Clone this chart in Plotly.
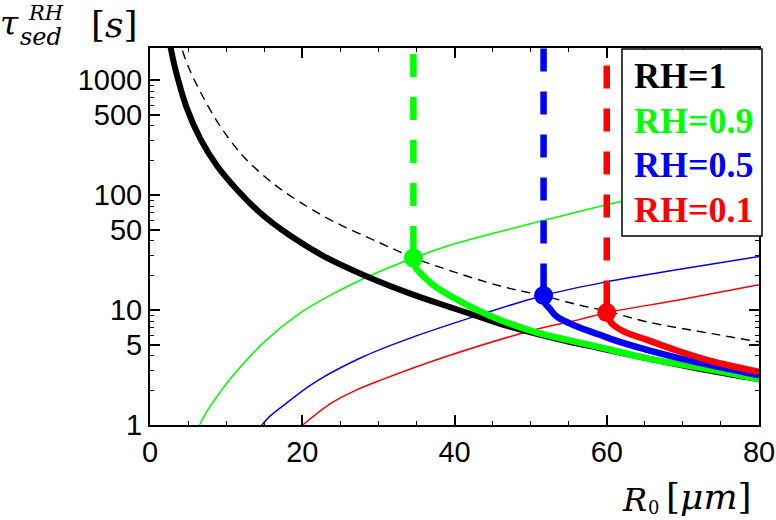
import plotly.graph_objects as go

# ---------------- data ----------------
# RH = 1 (thick black)
R_rh1 = [2.6, 2.9, 3.3, 4.8, 6.6, 8.8, 11.4, 14.5, 18.4, 22.8, 28.5, 34.2, 39.4,
         41.6, 46.0, 50.4, 54.8, 59.1, 65.3, 72.0, 80.0]
tau_rh1 = [2100, 1670, 1270, 580, 310, 180, 112, 70, 44.5, 29.5, 19.6, 13.9, 10.6,
           9.5, 7.6, 6.3, 5.35, 4.65, 3.8, 3.1, 2.5]

# thin dashed black reference curve
R_ref = [3.7, 4.16, 5.0, 6.57, 9.2, 12.3, 16.2, 19.7, 24.1, 29.8, 34.6, 39.0, 46.0,
         51.7, 56.5, 60.0, 65.3, 74.0, 80.0]
tau_ref = [2400, 1900, 1330, 800, 400, 216, 126, 87, 59, 39.5, 28.6, 22.5, 16.2,
           13.3, 11.0, 9.8, 7.9, 6.2, 5.3]

# thin rising curves
R_g_thin = [6.4, 7.5, 8.8, 10.9, 15.3, 19.7, 23.8, 28.5, 34.6, 39.4, 46.9, 55.6, 62.0, 70.0, 80.0]
tau_g_thin = [0.97, 1.32, 1.77, 2.69, 5.5, 9.4, 13.6, 19.4, 28.4, 36.6, 50, 70, 88.5, 112, 145]

R_b_thin = [14.6, 15.8, 17.3, 21.6, 28.2, 34.8, 42.9, 51.7, 60.0, 70.0, 80.0]
tau_b_thin = [0.98, 1.2, 1.44, 2.34, 3.98, 5.9, 8.9, 13.4, 17.6, 22.9, 29.3]

R_r_thin = [19.9, 23.8, 27.0, 30.4, 39.2, 50.4, 56.5, 60.0, 69.6, 80.0]
tau_r_thin = [0.98, 1.55, 2.0, 2.47, 4.0, 6.7, 8.3, 9.5, 12.3, 16.6]

# thick coloured curves (after the transition point)
R_rh09 = [34.6, 34.8, 35.5, 36.4, 37.2, 38.1, 41.6, 46.0, 50.4, 54.8, 59.1, 65.3, 74.0, 80.0]
tau_rh09 = [28.4, 24, 21, 18.4, 16.5, 15.0, 11.1, 8.2, 6.5, 5.5, 4.75, 3.8, 3.0, 2.5]

R_rh05 = [51.7, 51.9, 52.5, 53.4, 56.5, 59.1, 60.9, 65.3, 69.6, 74.0, 80.0]
tau_rh05 = [13.4, 11.5, 10.3, 8.8, 7.0, 6.1, 5.5, 4.5, 3.8, 3.27, 2.7]

R_rh01 = [60.0, 60.3, 60.9, 62.5, 65.3, 69.6, 74.0, 80.0]
tau_rh01 = [9.5, 8.3, 7.4, 6.4, 5.5, 4.36, 3.56, 2.9]

# transition points
R_pts = [34.6, 51.7, 60.0]
tau_pts = [28.4, 13.4, 9.5]
tau_top = 2500

colors = ["#00ff00", "#0000ff", "#ff0000"]
legend_labels = ["RH=1", "RH=0.9", "RH=0.5", "RH=0.1"]
legend_colors = ["#000000", "#00ff00", "#0000ff", "#ff0000"]

x_ticks = [0, 20, 40, 60, 80]
y_ticks = [1, 5, 10, 50, 100, 500, 1000]
y_minor = [2, 3, 4, 6, 7, 8, 9, 20, 30, 40, 60, 70, 80, 90,
           200, 300, 400, 600, 700, 800, 900]

# ---------------- figure ----------------
W, H = 776, 520
L, R, T, B = 150, 17, 48, 95
pw, ph = W - L - R, H - T - B


def px(xp, yp):
    return (xp - L) / pw, (H - B - yp) / ph


fig = go.Figure()


def line(xs, ys, color, width, dash=None, spline=True):
    ln = dict(color=color, width=width, simplify=False)
    if dash:
        ln["dash"] = dash
    if spline:
        ln["shape"] = "spline"
        ln["smoothing"] = 1.0
    fig.add_trace(go.Scatter(x=xs, y=ys, mode="lines", line=ln))


line(R_ref, tau_ref, "black", 1.4, dash="9px,6px")
line(R_g_thin, tau_g_thin, colors[0], 1.5)
line(R_b_thin, tau_b_thin, colors[1], 1.5)
line(R_r_thin, tau_r_thin, colors[2], 1.5)
line(R_rh1, tau_rh1, "black", 6)

vdash = "32px,20px," + ",".join(["23px,20px"] * 8)
for rx, ty, col, (xs, ys) in zip(R_pts, tau_pts, colors,
                                 [(R_rh09, tau_rh09), (R_rh05, tau_rh05), (R_rh01, tau_rh01)]):
    line([rx, rx], [ty, tau_top], col, 6.5, dash=vdash, spline=False)
    line(xs, ys, col, 6.5)
    fig.add_trace(go.Scatter(x=[rx], y=[ty], mode="markers",
                             marker=dict(color=col, size=19)))

tickfont = dict(family="Liberation Sans, Arial, sans-serif", size=29, color="black")

fig.update_xaxes(range=[0, 80], tickvals=x_ticks, ticktext=[str(v) for v in x_ticks],
                 ticks="inside", ticklen=10, tickwidth=2, tickcolor="black",
                 showline=True, linecolor="black", linewidth=2, mirror="ticks",
                 showgrid=False, zeroline=False, tickfont=tickfont, automargin=False,
                 minor=dict(dtick=5, tick0=0, ticks="inside", ticklen=4,
                            tickwidth=1, tickcolor="black", showgrid=False))
fig.update_yaxes(type="log", range=[0, 3.28], tickvals=y_ticks,
                 ticktext=[str(v) for v in y_ticks],
                 ticks="inside", ticklen=10, tickwidth=2, tickcolor="black",
                 showline=True, linecolor="black", linewidth=2, mirror="ticks",
                 showgrid=False, zeroline=False, tickfont=tickfont, automargin=False,
                 minor=dict(tickmode="array", tickvals=y_minor, ticks="inside",
                            ticklen=4, tickwidth=1, tickcolor="black", showgrid=False))

# legend box
x0, y1 = px(622, 49)
x1, y0 = px(762, 236)
fig.add_shape(type="rect", xref="paper", yref="paper", x0=x0, x1=x1, y0=y0, y1=y1,
              line=dict(color="black", width=1.5), fillcolor="white", layer="above")
for i, (lab, col) in enumerate(zip(legend_labels, legend_colors)):
    ax, ay = px(632, 76 + 44.5 * i)
    fig.add_annotation(x=ax, y=ay, xref="paper", yref="paper", text="<b>" + lab + "</b>",
                       showarrow=False, xanchor="left", yanchor="middle",
                       font=dict(family="Liberation Serif, Times New Roman, serif",
                                 size=36, color=col))

serif = "DejaVu Serif, Liberation Serif, serif"


def label(xp, yp, text, size):
    ax, ay = px(xp, yp)
    fig.add_annotation(x=ax, y=ay, xref="paper", yref="paper", text=text,
                       showarrow=False, xanchor="left", yanchor="middle",
                       font=dict(family=serif, size=size, color="black"))


# y-axis title
label(-2, 24, "<i>τ</i>", 33)
label(26, 13, "<i>RH</i>", 21)
label(18, 37, "<i>sed</i>", 24)
label(89, 25, "[<i>s</i>]", 36)
# x-axis title
label(620, 500, "<i>R</i>", 32)
label(646, 507, "0", 18)
label(664, 497, "[<i>μm</i>]", 36)

fig.update_layout(width=W, height=H, margin=dict(l=L, r=R, t=T, b=B, autoexpand=False),
                  plot_bgcolor="white", paper_bgcolor="white", showlegend=False)

fig.write_html("out.html", config={"displayModeBar": False},
               post_script="document.body.style.margin='0';document.body.style.overflow='hidden';")
